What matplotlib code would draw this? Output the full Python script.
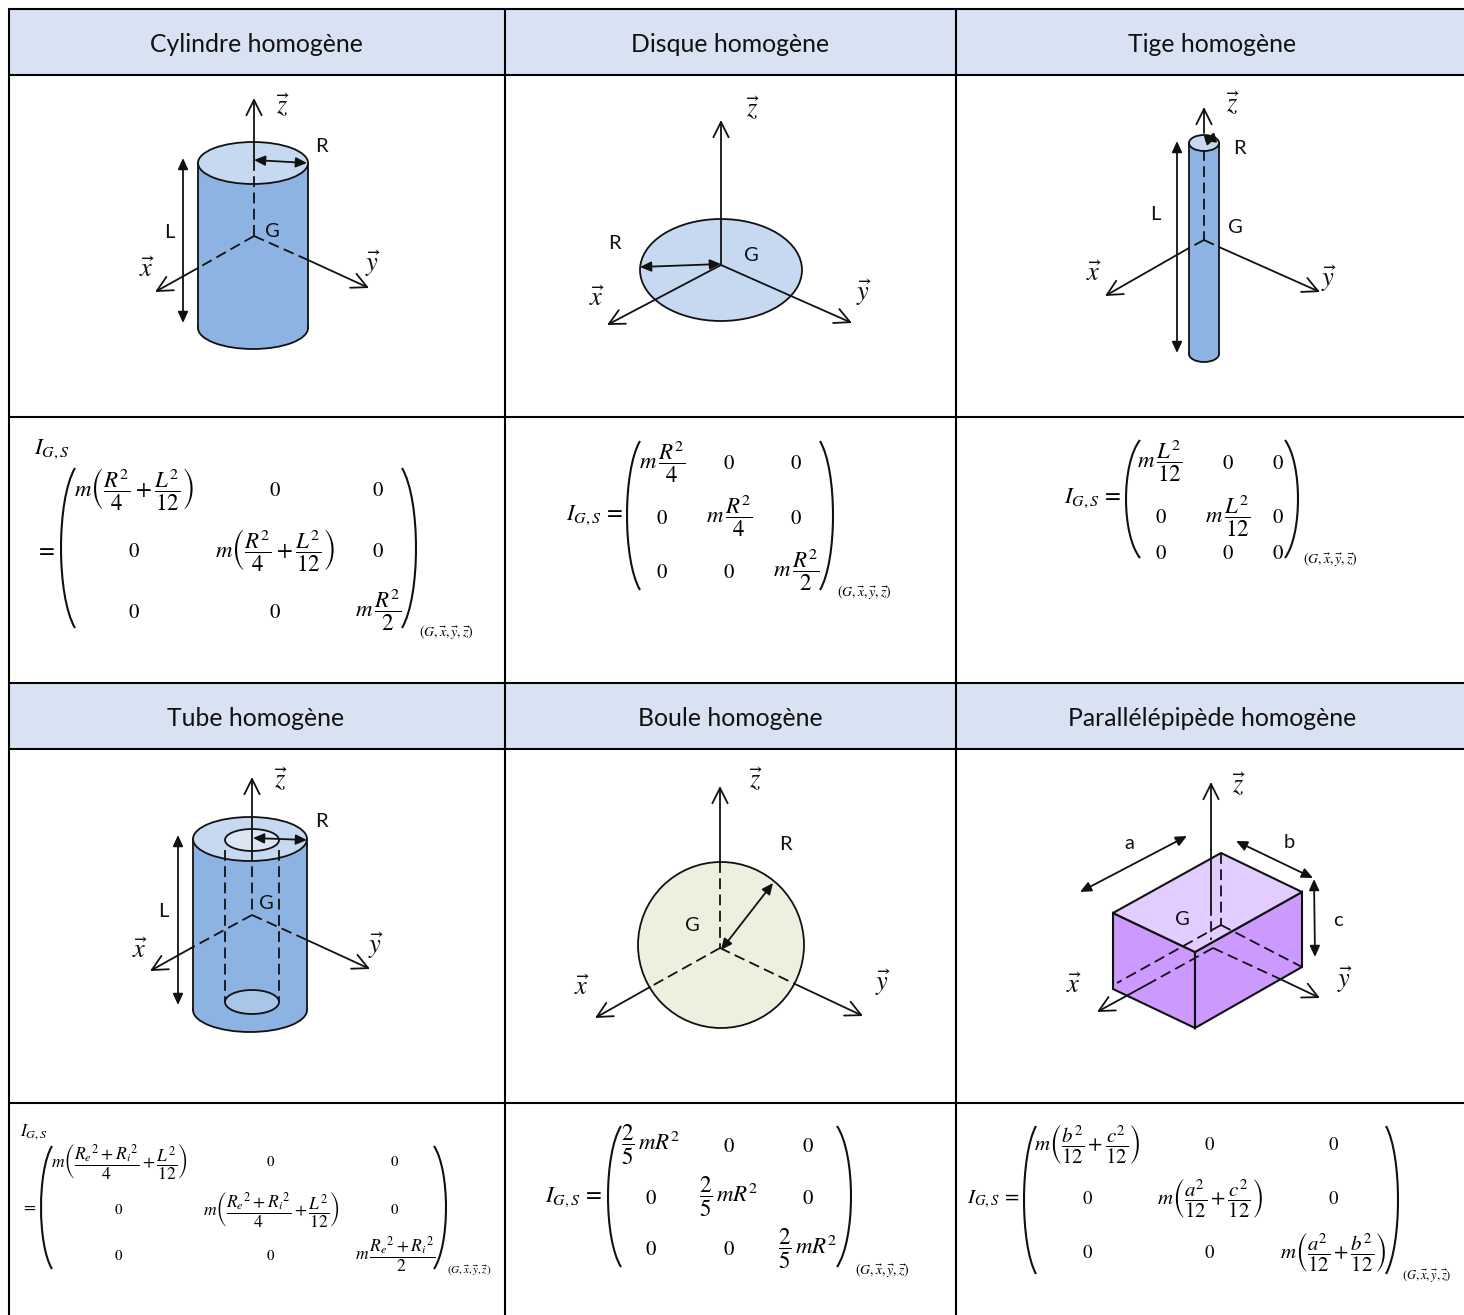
import matplotlib
matplotlib.use("Agg")
import matplotlib.pyplot as plt
from matplotlib.patches import Ellipse, Rectangle, Polygon, PathPatch, Circle
from matplotlib.path import Path

plt.rcParams['font.family'] = ['Lato', 'DejaVu Sans']
plt.rcParams['mathtext.fontset'] = 'stix'

W, H = 1464, 1315
INK = '#111111'
BLUE, PALE, HEAD = '#8DB3E2', '#C6D9F1', '#D9E2F3'

# table layout
col_lines = [9, 505, 956]
row_lines = [9, 75, 417, 683, 749, 1103]
header_bands = [(9, 75), (683, 749)]
headers = [("Cylindre homogène", 256, 44), ("Disque homogène", 730, 44), ("Tige homogène", 1212, 44),
           ("Tube homogène", 256, 718), ("Boule homogène", 730, 718), ("Parallélépipède homogène", 1212, 718)]

# shared formula pieces
CYL1 = r'$m\left(\dfrac{R^2}{4}+\dfrac{L^2}{12}\right)$'
R4 = r'$m\,\dfrac{R^2}{4}$'
R2 = r'$m\,\dfrac{R^2}{2}$'
L12 = r'$m\,\dfrac{L^2}{12}$'
TUBE1 = r'$m\left(\dfrac{{R_e}^2+{R_i}^2}{4}+\dfrac{L^2}{12}\right)$'
TUBE2 = r'$m\,\dfrac{{R_e}^2+{R_i}^2}{2}$'
BALL = r'$\dfrac{2}{5}\,mR^2$'
PAR1 = r'$m\left(\dfrac{b^2}{12}+\dfrac{c^2}{12}\right)$'
PAR2 = r'$m\left(\dfrac{a^2}{12}+\dfrac{c^2}{12}\right)$'
PAR3 = r'$m\left(\dfrac{a^2}{12}+\dfrac{b^2}{12}\right)$'
ZERO = r'$0$'
IGS = r'$I_{G,S}$'
IGSEQ = r'$I_{G,S}\,=$'
EQ = r'$=$'
BASIS = r'$(G,\vec{x},\vec{y},\vec{z})$'

# matrices: zero size, formula size, subscript size, labels, left paren, right paren, entries
mat1 = dict(size=15, fsize=16.5, sub=10, lead=[(IGS, 52, 449), (EQ, 45, 549)], subpos=(446, 632),
            left=(61, 75), right=(416, 402), span=(468, 628),
            cells=[(CYL1, 134, 490), (ZERO, 275, 490), (ZERO, 378, 490),
                   (ZERO, 134, 551), (CYL1, 275, 551), (ZERO, 378, 551),
                   (ZERO, 134, 612), (ZERO, 275, 612), (R2, 378, 610)])
mat2 = dict(size=15, fsize=16.5, sub=10, lead=[(IGSEQ, 595, 515)], subpos=(864, 592),
            left=(627, 640), right=(833, 820), span=(441, 590),
            cells=[(R4, 662, 462), (ZERO, 729, 463), (ZERO, 796, 463),
                   (ZERO, 662, 518), (R4, 729, 516), (ZERO, 796, 518),
                   (ZERO, 662, 572), (ZERO, 729, 572), (R2, 796, 570)])
mat3 = dict(size=15, fsize=16.5, sub=10, lead=[(IGSEQ, 1093, 498)], subpos=(1330, 559),
            left=(1126, 1140), right=(1298, 1285), span=(440, 558),
            cells=[(L12, 1160, 461), (ZERO, 1228, 463), (ZERO, 1278, 463),
                   (ZERO, 1161, 517), (L12, 1228, 516), (ZERO, 1278, 517),
                   (ZERO, 1161, 553), (ZERO, 1228, 553), (ZERO, 1278, 553)])
mat4 = dict(size=10.8, fsize=12.6, sub=8, lead=[(IGS, 34, 1132), (EQ, 29, 1206)], subpos=(469, 1271),
            left=(41, 52), right=(446, 434), span=(1146, 1269),
            cells=[(TUBE1, 119, 1162), (ZERO, 271, 1162), (ZERO, 395, 1162),
                   (ZERO, 119, 1210), (TUBE1, 271, 1210), (ZERO, 395, 1210),
                   (ZERO, 119, 1256), (ZERO, 271, 1256), (TUBE2, 395, 1254)])
mat5 = dict(size=15, fsize=16.5, sub=10, lead=[(IGSEQ, 574, 1197)], subpos=(882, 1270),
            left=(608, 621), right=(851, 837), span=(1126, 1267),
            cells=[(BALL, 651, 1145), (ZERO, 729, 1146), (ZERO, 808, 1146),
                   (ZERO, 651, 1198), (BALL, 729, 1197), (ZERO, 808, 1198),
                   (ZERO, 651, 1249), (ZERO, 729, 1249), (BALL, 808, 1249)])
mat6 = dict(size=13.5, fsize=15, sub=9, lead=[(IGSEQ, 993, 1199)], subpos=(1427, 1276),
            left=(1024, 1036), right=(1398, 1386), span=(1126, 1274),
            cells=[(PAR1, 1087, 1144), (ZERO, 1210, 1145), (ZERO, 1333, 1145),
                   (ZERO, 1088, 1199), (PAR2, 1210, 1199), (ZERO, 1333, 1199),
                   (ZERO, 1088, 1253), (ZERO, 1210, 1253), (PAR3, 1333, 1253)])
matrices = [mat1, mat2, mat3, mat4, mat5, mat6]

# diagrams: labels
labels = [("R", 321, 146), ("L", 169, 232), ("G", 272, 231),
          ("R", 614, 243), ("G", 751, 255),
          ("L", 1155, 214), ("R", 1239, 148), ("G", 1235, 227),
          ("R", 321, 821), ("L", 163, 911), ("G", 266, 903),
          ("R", 785, 844), ("G", 692, 925),
          ("a", 1129, 843), ("b", 1289, 842), ("c", 1338, 920), ("G", 1182, 919)]
axis_names = [(r'$\vec{z}$', 283, 106), (r'$\vec{x}$', 147, 269), (r'$\vec{y}$', 373, 264),
              (r'$\vec{z}$', 753, 109), (r'$\vec{x}$', 597, 298), (r'$\vec{y}$', 864, 293),
              (r'$\vec{z}$', 1233, 104), (r'$\vec{x}$', 1094, 273), (r'$\vec{y}$', 1329, 279),
              (r'$\vec{z}$', 281, 780), (r'$\vec{x}$', 140, 950), (r'$\vec{y}$', 376, 946),
              (r'$\vec{z}$', 756, 780), (r'$\vec{x}$', 582, 987), (r'$\vec{y}$', 883, 983),
              (r'$\vec{z}$', 1239, 785), (r'$\vec{x}$', 1074, 985), (r'$\vec{y}$', 1345, 980)]

# cylinders: cx, rx, top centre, bottom centre, ry
cyl_solid = (253, 55, 163, 328, 21)
cyl_rod = (1204, 15, 143, 354, 8)
cyl_tube = (250, 57, 839, 1010, 22)
tube_inner_top = (252, 27, 840, 11)
tube_inner_bot = (252, 27, 1002, 12)
disc = (721, 270, 81, 51)
ball = (721, 945, 83)
box_top = [(1221, 853), (1302, 892), (1195, 952), (1113, 913)]
box_left = [(1113, 913), (1195, 952), (1195, 1028), (1113, 989)]
box_right = [(1195, 952), (1302, 892), (1302, 967), (1195, 1028)]
box_hidden = [((1221, 853), (1221, 925)), ((1221, 925), (1302, 967)), ((1221, 925), (1117, 983))]

# open-headed axes: start, end
open_arrows = [((254, 160), (254, 98)), ((198, 268), (155, 292)), ((308, 260), (369, 288)),
               ((721, 265), (721, 120)), ((721, 265), (607, 325)), ((721, 265), (852, 323)),
               ((1204, 133), (1204, 107)), ((1189, 248), (1105, 296)), ((1219, 247), (1320, 292)),
               ((252, 850), (252, 777)), ((193, 947), (150, 971)), ((307, 940), (370, 969)),
               ((720, 862), (720, 786)), ((650, 987), (595, 1018)), ((795, 984), (863, 1016)),
               ((1211, 850), (1211, 782)), ((1150, 983), (1097, 1012)), ((1280, 979), (1320, 998))]
# dashed axis parts
dashed = [((254, 160), (254, 236)), ((254, 236), (198, 268)), ((254, 236), (308, 260)),
          ((1204, 150), (1204, 240)), ((1204, 240), (1189, 248)), ((1204, 240), (1219, 247)),
          ((252, 850), (252, 915)), ((252, 915), (193, 947)), ((252, 915), (307, 940)),
          ((225, 850), (225, 1002)), ((279, 850), (279, 1002)),
          ((720, 862), (720, 948)), ((720, 948), (650, 987)), ((720, 948), (795, 984)),
          ((1211, 905), (1211, 940)), ((1213, 948), (1150, 983)), ((1213, 948), (1280, 979))]
solid_axes = [((1211, 850), (1211, 905))]
# filled double arrows
double_arrows = [((254, 160), (307, 163)), ((183, 158), (183, 323)),
                 ((640, 267), (721, 264)),
                 ((1204, 141), (1217, 137)), ((1177, 141), (1177, 353)),
                 ((253, 838), (307, 840)), ((178, 835), (178, 1005)),
                 ((721, 950), (773, 883)),
                 ((1080, 892), (1187, 836)), ((1236, 841), (1313, 878)), ((1314, 879), (1315, 957))]

fig = plt.figure(figsize=(W / 100, H / 100), dpi=100)
ax = fig.add_axes([0, 0, 1, 1])
ax.set_xlim(0, W)
ax.set_ylim(H, 0)
ax.axis('off')


def cylinder(cx, rx, top, bot, ry):
    ax.add_patch(Ellipse((cx, bot), 2 * rx, 2 * ry, fc=BLUE, ec=INK, lw=1.3, zorder=2))
    ax.add_patch(Rectangle((cx - rx, top), 2 * rx, bot - top, fc=BLUE, ec='none', zorder=2))
    ax.plot([cx - rx] * 2, [top, bot], color=INK, lw=1.3, zorder=3)
    ax.plot([cx + rx] * 2, [top, bot], color=INK, lw=1.3, zorder=3)
    ax.add_patch(Ellipse((cx, top), 2 * rx, 2 * ry, fc=PALE, ec=INK, lw=1.3, zorder=3))


def paren(x_end, x_belly, y0, y1):
    ctrl = x_belly - (x_end - x_belly) / 3
    h = y1 - y0
    path = Path([(x_end, y0), (ctrl, y0 + .2 * h), (ctrl, y1 - .2 * h), (x_end, y1)],
                [Path.MOVETO, Path.CURVE4, Path.CURVE4, Path.CURVE4])
    ax.add_patch(PathPatch(path, fc='none', ec=INK, lw=1.5, zorder=5))


# table
for y0, y1 in header_bands:
    ax.add_patch(Rectangle((9, y0), W - 9, y1 - y0, fc=HEAD, ec='none', zorder=0))
for y in row_lines:
    ax.plot([8, W], [y, y], color='black', lw=1.5, zorder=1, solid_capstyle='butt')
for x in col_lines:
    ax.plot([x, x], [8, H], color='black', lw=1.5, zorder=1, solid_capstyle='butt')
for t, x, y in headers:
    ax.text(x, y, t, ha='center', va='center', fontsize=17.8, color='#111111')

# solids
cylinder(*cyl_solid)
cylinder(*cyl_rod)
cylinder(*cyl_tube)
ax.add_patch(Ellipse((tube_inner_top[0], tube_inner_top[2]), 2 * tube_inner_top[1], 2 * tube_inner_top[3],
                     fc='#DCE6F2', ec=INK, lw=1.3, zorder=3.2))
ax.add_patch(Ellipse((tube_inner_bot[0], tube_inner_bot[2]), 2 * tube_inner_bot[1], 2 * tube_inner_bot[3],
                     fc='#A9C6E9', ec=INK, lw=1.3, zorder=3.2))
ax.add_patch(Ellipse(disc[:2], 2 * disc[2], 2 * disc[3], fc=PALE, ec=INK, lw=1.3, zorder=2))
ax.add_patch(Circle(ball[:2], ball[2], fc='#EBF1DE', ec=INK, lw=1.3, zorder=2))
ax.add_patch(Polygon(box_left, fc='#CC99FF', ec=INK, lw=1.5, zorder=2))
ax.add_patch(Polygon(box_right, fc='#CC99FF', ec=INK, lw=1.5, zorder=2))
ax.add_patch(Polygon(box_top, fc='#E3CCFF', ec=INK, lw=1.5, zorder=2))
for a, b in box_hidden:
    ax.plot(*zip(a, b), color=INK, lw=1.3, ls=(0, (6, 3)), zorder=4)

# axes
for a, b in dashed:
    ax.plot(*zip(a, b), color=INK, lw=1.3, ls=(0, (6, 3)), zorder=4)
for a, b in solid_axes:
    ax.plot(*zip(a, b), color=INK, lw=1.3, zorder=4)
for a, b in open_arrows:
    ax.annotate('', xy=b, xytext=a, zorder=4,
                arrowprops=dict(arrowstyle='->,head_length=1.1,head_width=0.55', lw=1.3, color=INK,
                                shrinkA=0, shrinkB=0))
for a, b in double_arrows:
    ax.annotate('', xy=b, xytext=a, zorder=4,
                arrowprops=dict(arrowstyle='<|-|>,head_length=0.55,head_width=0.25', lw=1.3, color=INK,
                                shrinkA=0, shrinkB=0, mutation_scale=12))
for t, x, y in labels:
    ax.text(x, y, t, ha='center', va='center', fontsize=14.5, color=INK, zorder=6)
for t, x, y in axis_names:
    ax.text(x, y, t, ha='center', va='center', fontsize=19, color=INK, zorder=6)

# formulas
for m in matrices:
    for t, x, y in m['lead']:
        ax.text(x, y, t, ha='center', va='center', fontsize=m['fsize'], zorder=6)
    for t, x, y in m['cells']:
        ax.text(x, y, t, ha='center', va='center',
                fontsize=m['size'] if t == ZERO else m['fsize'], zorder=6)
    ax.text(*m['subpos'], BASIS, ha='center', va='center', fontsize=m['sub'], zorder=6)
    paren(m['left'][1], m['left'][0], *m['span'])
    paren(m['right'][1], m['right'][0], *m['span'])

fig.savefig('out.png', dpi=100)
